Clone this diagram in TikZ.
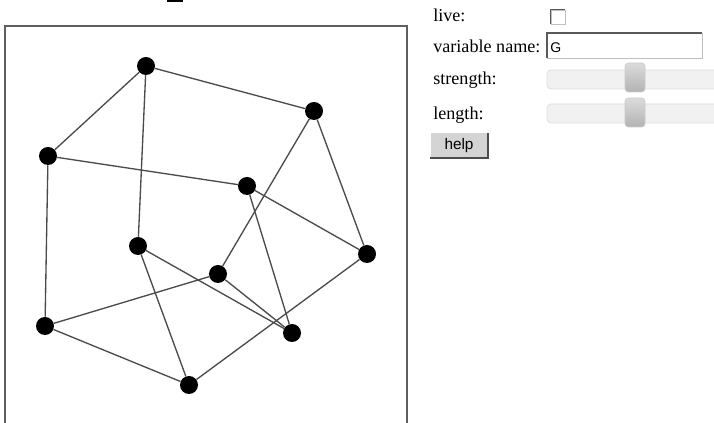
\documentclass[tikz,border=0pt]{standalone}
\usepackage{fontspec}
\setmainfont{Liberation Serif}
\newfontfamily\uifont{Liberation Sans}
\definecolor{edgegray}{RGB}{75, 75, 75}
\definecolor{framegray}{RGB}{95, 95, 95}
\definecolor{tracklight}{RGB}{241, 241, 241}
\definecolor{trackline}{RGB}{222, 222, 222}
\definecolor{buttongray}{RGB}{212, 212, 212}
\usetikzlibrary{positioning}
\tikzstyle{vertex} = [circle, fill=black, inner sep=0pt, minimum size=13.5pt]
\tikzstyle{link} = [draw=edgegray, line width=1pt]
\tikzstyle{formtext} = [anchor=base west, inner sep=0pt, font=\fontsize{13.6}{15}\selectfont]
\tikzstyle{track} = [draw=trackline, fill=tracklight, rounded corners=3pt, line width=0.6pt]
\tikzstyle{thumb} = [draw=black!20, top color=black!14, bottom color=black!30, rounded corners=2.5pt, line width=0.5pt]
\begin{document}
\begin{tikzpicture}[x=0.75pt, y=-0.75pt]
                    \useasboundingbox (0,0) rectangle (714,423);
                    % frame of the drawing area
                    \fill (167,0) rectangle (183,2);
                    \draw[framegray, line width=1.3pt] (5,423) -- (5,26) -- (407,26) -- (407,423);
                    % graph
                    \node[vertex] (a) at (146, 66) {};
                    \node[vertex] (b) at (314, 111) {};
                    \node[vertex] (c) at (48, 156) {};
                    \node[vertex] (d) at (247, 186) {};
                    \node[vertex] (e) at (138, 246) {};
                    \node[vertex] (f) at (367, 254) {};
                    \node[vertex] (g) at (218, 274) {};
                    \node[vertex] (h) at (45, 326) {};
                    \node[vertex] (i) at (292, 333) {};
                    \node[vertex] (j) at (189, 385) {};
                    \foreach \u/\v in {a/b, a/c, a/e, b/f, b/g, c/d, c/h, d/f, d/i, e/i, e/j, g/h, g/i, f/j, h/j}
                        \draw[link] (\u) -- (\v);
                    % controls
                    \node[formtext] (livetxt) at (433, 22) {live:};
                    \node[draw=black!25, fill=white, minimum size=10.5pt, inner sep=0pt] (livebox) at (558, 17) {};
                    \draw[black!65, line width=1pt] (livebox.south west) |- (livebox.north east);
                    \node[formtext] (nametxt) at (433, 53) {variable name:};
                    \node[draw=black!25, fill=white, minimum width=116pt, minimum height=18.5pt, inner sep=0pt] (namebox) at (624.5, 45.5) {};
                    \draw[black!65, line width=1.2pt] (namebox.south west) |- (namebox.north east);
                    \node[anchor=base west, inner sep=0pt, font=\uifont\fontsize{10.5}{12}\selectfont] (nameval) at (550, 53) {G};
                    \node[formtext] (strengthtxt) at (433, 85) {strength:};
                    \draw[track] (547,70) rectangle (720,89);
                    \draw[thumb] (625,63) rectangle (645,92);
                    \node[formtext] (lengthtxt) at (433, 120) {length:};
                    \draw[track] (547,104) rectangle (720,123);
                    \draw[thumb] (625,98) rectangle (645,127);
                    \node[fill=buttongray, minimum width=43pt, minimum height=18.5pt, inner sep=0pt,
                          font=\uifont\fontsize{11.5}{12}\selectfont] (help) at (459, 145.5) {help};
                    \draw[white, line width=0.8pt] (help.south west) |- (help.north east);
                    \draw[black!70, line width=1.1pt] (help.south west) -| (help.north east);
                \end{tikzpicture}
\end{document}
